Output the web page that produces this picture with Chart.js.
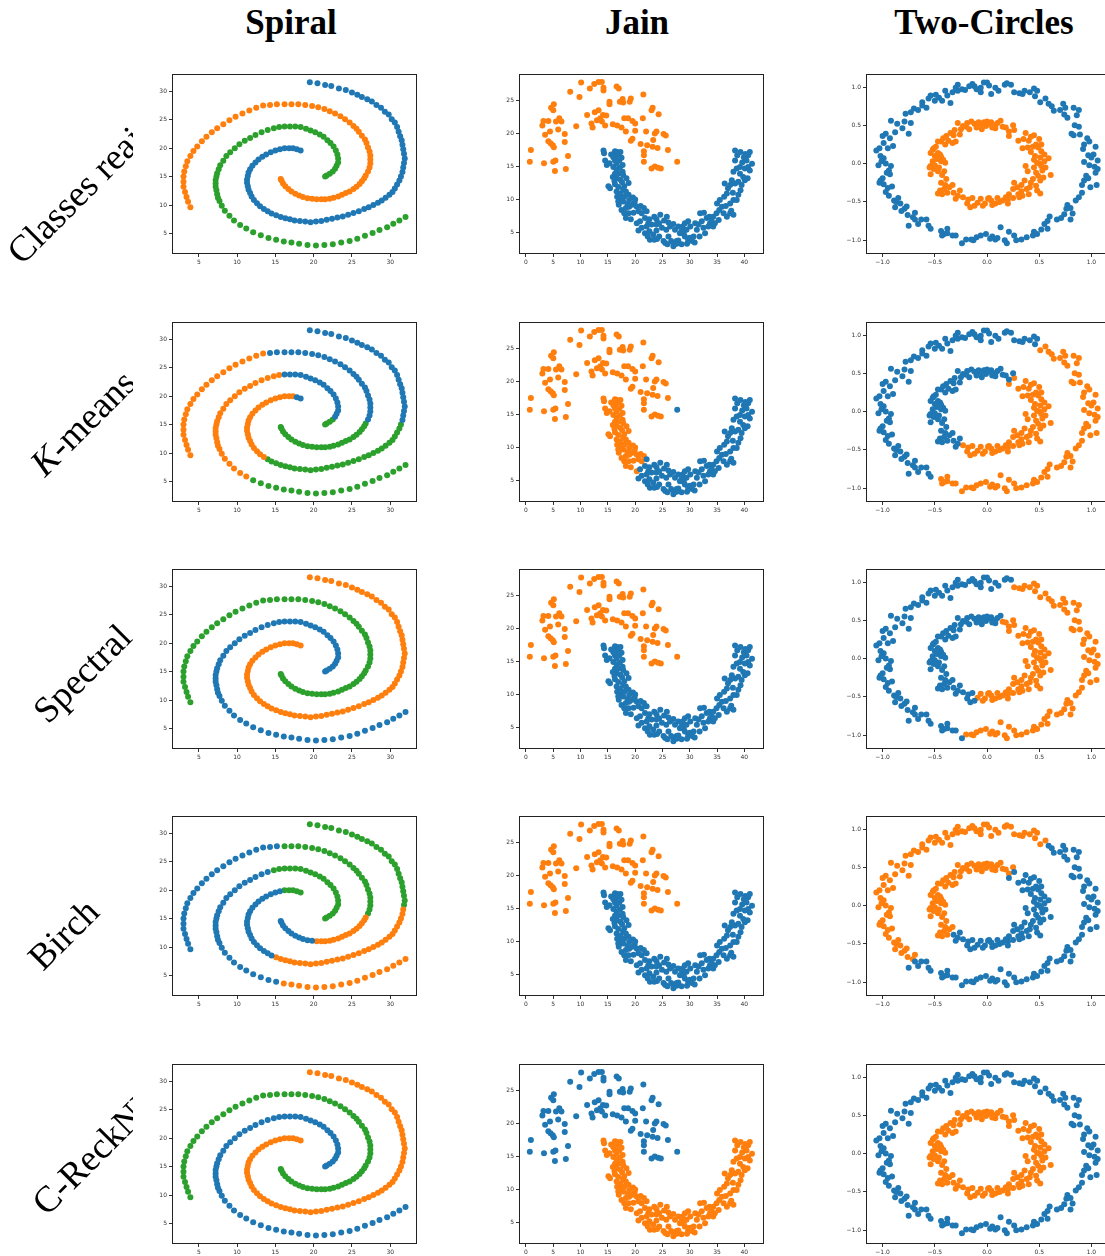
<!DOCTYPE html>
<html>
<head>
<meta charset="utf-8">
<script src="https://cdn.jsdelivr.net/npm/chart.js@4.4.1/dist/chart.umd.min.js"></script>
<style>
html, body { margin: 0; padding: 0; background: #fff; width: 1105px; height: 1256px; overflow: hidden; }
#page { position: relative; width: 1105px; height: 1256px; overflow: hidden; }
svg.text { position: absolute; left: 0; top: 0; overflow: hidden; z-index: 2; pointer-events: none; }
canvas { position: absolute; }
</style>
</head>
<body>
<div id="page">
  <svg class="text" width="1105" height="60" font-family="Liberation Serif, serif" font-weight="bold" font-size="35" text-anchor="middle">
    <text x="291" y="34">Spiral</text>
    <text x="637" y="34">Jain</text>
    <text x="984" y="34">Two-Circles</text>
  </svg>
  <svg class="text" width="133" height="1256" font-family="Liberation Serif, serif" font-size="37">
    <text x="22" y="266" transform="rotate(-45 22 266)">Classes reais</text>
    <text x="45" y="478" transform="rotate(-45 45 478)"><tspan font-style="italic">K</tspan>-means</text>
    <text x="48" y="725" transform="rotate(-45 48 725)">Spectral</text>
    <text x="43" y="972" transform="rotate(-45 43 972)">Birch</text>
    <text x="47" y="1217" transform="rotate(-45 47 1217)">C-ReckNN</text>
  </svg>
</div>
<script>
// ---- Spiral: three arms, each cut where the clusterings change colour
const spiralA1 = [[19.5,31.6],[20.5,31.4],[21.5,31.1],[22.3,30.9],[23.3,30.5],[24.2,30.2],[25.0,29.8],[25.7,29.4],[26.3,29.0],[27.0,28.6],[27.6,28.2],[28.2,27.6],[28.8,27.1],[29.3,26.4],[29.8,25.9],[30.2,25.1],[30.6,24.5],[30.9,23.7],[31.1,22.9],[31.3,22.1],[31.5,21.4],[31.6,20.6],[31.7,19.8],[31.8,19.0],[31.9,18.2],[31.8,17.4]];
const spiralA2 = [[31.7,16.6],[31.6,15.8]];
const spiralA3 = [[31.4,15.0],[31.2,14.3],[30.9,13.6],[30.6,12.9],[30.3,12.3],[29.9,11.8],[29.4,11.3],[28.9,10.8],[28.4,10.4],[27.8,10.0],[27.2,9.6],[26.6,9.3],[25.9,8.9],[25.2,8.6],[24.5,8.3],[23.8,8.0],[23.1,7.8],[22.4,7.6],[21.7,7.4],[21.0,7.2],[20.3,7.1],[19.6,7.0],[18.9,7.1],[18.2,7.2],[17.5,7.3],[16.9,7.5],[16.3,7.7],[15.7,7.9],[15.1,8.2]];
const spiralA4 = [[14.5,8.5],[14.0,8.9]];
const spiralA5 = [[13.5,9.3],[13.0,9.8],[12.6,10.3],[12.2,10.9],[11.9,11.5],[11.7,12.1],[11.5,12.7],[11.4,13.3],[11.3,13.9],[11.3,14.5],[11.4,15.1],[11.5,15.7],[11.7,16.3],[12.0,16.9],[12.4,17.5],[12.8,18.0],[13.3,18.5],[13.8,18.9],[14.4,19.3],[15.0,19.6],[15.6,19.8]];
const spiralA6 = [[16.2,20.0],[16.8,20.0],[17.3,20.0]];
const spiralA7 = [[17.8,19.8],[18.3,19.6]];
const spiralB1 = [[3.9,9.6],[3.6,10.6],[3.4,11.4],[3.2,12.3],[3.0,13.2],[3.0,14.1],[3.0,15.0],[3.1,15.9],[3.3,16.8],[3.5,17.7],[3.9,18.6],[4.3,19.5],[4.8,20.3],[5.4,21.2],[6.0,22.0],[6.7,22.8],[7.4,23.5],[8.2,24.2],[9.0,24.9],[9.8,25.5],[10.7,26.1],[11.6,26.6],[12.5,27.1],[13.4,27.5]];
const spiralB2 = [[14.3,27.6],[15.2,27.7]];
const spiralB3 = [[16.2,27.7],[17.1,27.7],[18.0,27.7],[18.9,27.6],[19.8,27.4],[20.6,27.2],[21.4,26.9],[22.1,26.5],[22.8,26.1],[23.5,25.6],[24.1,25.1],[24.7,24.5],[25.2,23.9],[25.6,23.4],[25.9,22.9],[26.3,22.2],[26.7,21.5],[26.9,20.9],[27.1,20.1],[27.3,19.4],[27.4,18.7],[27.4,18.0],[27.4,17.3],[27.3,16.6],[27.1,15.9]];
const spiralB4 = [[26.8,15.2],[26.6,14.7],[26.3,14.2],[26.0,13.7],[25.6,13.2],[25.2,12.8],[24.7,12.4],[24.2,12.1],[23.7,11.8],[23.2,11.5],[22.6,11.3],[22.1,11.1],[21.5,11.0],[21.0,11.0],[20.4,11.0]];
const spiralB5 = [[19.8,11.1],[19.2,11.2],[18.6,11.4],[18.1,11.7],[17.6,12.0],[17.1,12.4],[16.7,12.8],[16.3,13.3],[16.0,13.8],[15.8,14.3],[15.7,14.6]];
const spiralC1 = [[32.0,7.9],[31.2,7.3],[30.4,6.7],[29.6,6.1],[28.6,5.6],[27.7,5.1],[26.7,4.6],[25.7,4.1],[24.7,3.7],[23.6,3.4],[22.5,3.1],[21.4,3.0],[20.3,2.9],[19.2,3.0],[18.1,3.2],[17.1,3.4],[16.1,3.6]];
const spiralC2 = [[15.1,3.9],[14.1,4.2],[13.1,4.7],[12.1,5.2]];
const spiralC3 = [[11.2,5.9],[10.4,6.5],[9.6,7.3],[9.0,8.1],[8.4,9.0],[8.0,9.9],[7.7,10.7],[7.5,11.3],[7.4,11.9],[7.3,12.6],[7.2,13.2],[7.2,13.8],[7.2,14.4],[7.3,15.0],[7.4,15.6],[7.6,16.3],[7.8,17.0],[8.2,17.8],[8.6,18.6],[9.1,19.3],[9.7,20.0],[10.3,20.7],[11.0,21.3],[11.7,21.8],[12.4,22.3],[13.2,22.8],[14.0,23.2]];
const spiralC4 = [[14.8,23.5],[15.5,23.7]];
const spiralC5 = [[16.2,23.8],[16.9,23.8],[17.6,23.8],[18.3,23.7],[19.0,23.4],[19.6,23.1],[20.2,22.8],[20.8,22.4],[21.3,22.0],[21.8,21.4],[22.2,20.9],[22.6,20.3],[22.9,19.6],[23.1,18.9],[23.2,18.2],[23.2,17.5],[23.0,16.9],[22.8,16.4]];
const spiralC6 = [[22.5,15.9],[22.1,15.5],[21.7,15.2],[21.5,15.0]];
// colour per piece and per row (b blue, o orange, g green), arms A | B | C
const spiralCodes = [
  ['bbbbbbb', 'ooooo', 'gggggg'],
  ['bbggoob', 'obbgg', 'ggoobg'],
  ['ooooooo', 'ggggg', 'bbbbbb'],
  ['goobbgg', 'bbgob', 'obbggg'],
  ['ooooooo', 'ggggg', 'bbbbbb']
];

// ---- Jain
const jainUpper = [[0.9,17.5],[0.7,15.7],[3.0,21.2],[3.2,21.9],[4.1,21.9],[3.5,19.8],[4.4,20.3],[3.3,15.5],[4.1,18.8],[4.5,18.5],[4.9,18.2],[5.1,17.9],[4.6,23.9],[5.1,24.4],[5.0,23.5],[5.5,21.8],[6.1,22.3],[6.5,21.8],[5.9,20.6],[7.1,19.9],[7.1,18.7],[5.0,15.7],[5.4,15.9],[5.3,14.3],[7.3,14.6],[7.7,16.6],[8.1,26.3],[9.2,21.1],[9.8,25.5],[10.1,27.7],[11.2,22.8],[11.7,26.8],[12.5,27.5],[13.3,27.8],[13.9,27.8],[14.2,26.9],[14.2,26.5],[12.6,23.2],[13.3,23.5],[12.0,21.5],[12.2,20.9],[13.0,22.0],[13.6,22.3],[13.9,21.8],[14.1,22.8],[14.7,22.7],[14.5,21.2],[15.3,24.4],[15.3,24.8],[15.9,21.4],[16.6,27.1],[17.0,26.8],[17.2,24.8],[17.7,25.2],[17.8,24.7],[16.7,21.2],[17.5,20.9],[18.3,20.3],[18.0,22.3],[18.7,22.3],[19.0,24.8],[19.2,25.3],[19.2,18.9],[19.5,19.2],[19.5,21.9],[20.0,21.5],[20.0,20.4],[21.0,18.4],[21.5,25.9],[21.4,22.3],[22.0,20.3],[21.6,17.3],[21.6,16.7],[21.6,15.7],[22.2,18.2],[23.2,23.9],[23.0,23.5],[23.3,19.0],[23.6,20.0],[23.9,20.3],[23.2,18.0],[24.1,17.8],[24.3,22.9],[23.0,14.7],[23.6,15.0],[24.2,14.8],[24.7,14.7],[25.2,19.9],[25.6,19.7],[26.0,17.5]];
const jainOutlier = [[27.7,15.7]];
const jainLowerLeft = [[14.2,17.4],[14.3,17.0],[14.5,15.9],[14.8,15.2],[15.3,15.5],[15.6,16.8],[16.3,17.3],[16.7,17.2],[17.3,17.2],[16.5,16.6],[17.0,16.9],[16.0,16.4],[16.3,15.9],[16.6,15.4],[17.1,15.9],[17.5,16.3],[16.0,14.9],[16.6,14.5],[17.2,14.8],[17.7,15.2],[16.3,13.9],[16.9,13.9],[17.7,14.2],[17.8,13.7],[15.9,13.4],[16.6,13.2],[17.3,13.0],[16.2,12.8],[17.6,12.6],[18.4,13.2],[15.1,12.0],[15.4,11.7],[16.3,12.3],[16.9,11.9],[18.0,12.0],[17.8,11.5],[18.8,12.5],[16.6,11.2],[17.3,10.9],[18.3,11.2],[16.7,10.4],[17.5,10.2],[18.0,10.4],[18.8,10.7],[19.6,10.3],[16.9,9.7],[17.8,9.7],[18.9,9.9],[20.0,10.0],[17.0,9.2],[18.6,9.3],[19.9,9.5],[17.5,8.4],[18.3,8.7],[18.9,8.9],[19.5,9.2],[20.3,8.9],[21.0,9.0],[21.6,8.7],[18.0,7.9],[18.8,7.9],[19.7,8.0],[20.6,8.2],[18.3,7.2],[19.2,7.0],[21.2,7.9],[20.3,6.4]];
const jainLowerRight = [[22.1,8.2],[20.9,6.7],[21.8,7.2],[22.6,7.0],[23.5,7.4],[23.9,7.0],[20.6,5.3],[21.2,5.7],[22.1,5.9],[23.0,6.2],[22.4,6.4],[23.9,6.2],[24.4,6.4],[24.6,7.7],[25.3,6.8],[25.8,7.4],[26.1,6.5],[27.0,6.3],[21.8,4.9],[22.3,4.4],[22.6,5.2],[23.3,4.7],[23.9,5.3],[24.9,5.7],[25.7,5.4],[26.4,5.9],[27.3,5.4],[27.9,5.9],[22.7,3.9],[23.5,3.9],[24.0,4.0],[24.4,4.4],[25.2,3.7],[25.5,3.4],[25.9,3.2],[26.1,4.4],[26.6,3.7],[27.0,3.4],[27.0,2.9],[27.6,3.7],[27.6,3.3],[27.9,3.8],[28.5,3.2],[28.2,4.9],[28.5,5.2],[28.9,4.8],[28.7,5.9],[29.1,6.4],[29.4,5.4],[29.7,6.7],[29.1,4.4],[29.5,3.3],[29.7,3.9],[30.0,4.2],[30.4,3.7],[30.9,3.5],[30.7,4.4],[30.1,5.9],[31.0,6.4],[31.3,5.4],[31.6,6.2],[31.9,7.9],[32.2,6.7],[32.6,8.0],[32.5,5.7],[33.1,7.2],[33.4,5.9],[33.6,7.4],[33.7,6.4],[32.8,4.9],[31.8,4.4],[34.0,6.7],[34.3,7.4],[34.3,5.9],[34.6,6.4],[34.9,7.9],[35.3,6.9],[35.4,8.4],[35.9,8.9],[35.0,9.4],[35.5,9.9],[36.3,10.4],[36.6,9.0],[36.8,10.9],[36.2,7.9],[36.8,7.4],[37.4,7.9],[37.6,8.3],[38.0,7.7],[37.4,9.4],[38.0,9.9],[38.6,9.9],[38.9,10.7],[37.9,11.0],[37.0,11.7],[36.4,12.4],[37.4,12.2],[37.7,12.9],[38.3,12.4],[38.9,12.7],[39.3,11.4],[39.5,12.2],[40.1,12.9],[40.6,13.2],[39.2,13.9],[39.8,13.4],[38.0,14.2],[38.6,14.7],[39.2,14.9],[38.3,15.9],[39.6,15.6],[38.7,16.7],[38.3,17.4],[39.3,17.2],[39.9,16.4],[40.2,16.9],[40.7,16.7],[41.0,17.2],[40.4,15.9],[41.4,15.4],[40.7,14.9],[40.1,14.7],[41.0,14.4]];
const jainCodes = ['oobb', 'obob', 'oobb', 'oobb', 'bboo'];

// ---- Two-Circles: outer ring in six arcs, inner ring in five arcs
const outerS1 = [[0.59,0.78],[0.62,0.75],[0.64,0.69],[0.70,0.70],[0.73,0.78],[0.75,0.73],[0.74,0.64],[0.77,0.60],[0.83,0.73],[0.88,0.70],[0.86,0.63],[0.84,0.50],[0.88,0.48],[0.89,0.38],[0.81,0.39],[0.83,0.37],[0.96,0.33],[0.98,0.29],[0.93,0.25],[0.92,0.19],[1.04,0.22],[1.02,0.12],[0.97,0.11],[1.00,0.08],[1.06,0.04],[0.93,0.02],[0.98,-0.02],[1.03,-0.04],[1.06,-0.07],[1.04,-0.12],[0.95,-0.16],[0.97,-0.19],[0.93,-0.22],[1.05,-0.28],[0.99,-0.31],[0.91,-0.28],[0.91,-0.38],[0.88,-0.44],[0.85,-0.48],[0.77,-0.54],[0.76,-0.59],[0.80,-0.58],[0.74,-0.66],[0.82,-0.65],[0.80,-0.73],[0.71,-0.71],[0.67,-0.73],[0.60,-0.69],[0.58,-0.75],[0.55,-0.79],[0.58,-0.85],[0.52,-0.86],[0.45,-0.89],[0.44,-0.94],[0.48,-0.92],[0.38,-0.96],[0.33,-0.99],[0.28,-1.00],[0.26,-0.94],[0.21,-0.89],[0.19,-1.04],[0.17,-1.00],[0.13,-0.83],[0.10,-0.97],[0.08,-0.99],[0.05,-0.95],[0.03,-0.98],[-0.01,-0.92],[-0.06,-0.94],[-0.10,-0.96],[-0.13,-1.00],[-0.15,-0.99],[-0.20,-0.99]];
const outerS2 = [[0.51,0.80],[0.56,0.85]];
const outerS3 = [[0.26,0.93],[0.31,0.92],[0.34,0.91],[0.36,0.95],[0.41,0.93],[0.45,0.98],[0.48,0.95],[0.46,0.88]];
const outerS4 = [[-0.03,1.06],[0.00,1.06],[0.02,1.02],[0.08,0.99],[0.04,0.91],[0.11,0.95],[0.17,1.03],[0.19,1.05],[0.23,1.03],[-0.06,0.99],[-0.06,0.93],[-0.10,0.97],[-0.12,1.01],[-0.14,1.04],[-0.17,1.01],[-0.21,0.96],[-0.24,0.97],[-0.28,0.95],[-0.28,1.03],[-0.30,0.99],[-0.33,0.93],[-0.35,0.79],[-0.38,0.89],[-0.40,0.95],[-0.43,0.82],[-0.46,0.86],[-0.49,0.90],[-0.50,0.82],[-0.54,0.89],[-0.56,0.85],[-0.58,0.73],[-0.62,0.76],[-0.62,0.80],[-0.66,0.70],[-0.70,0.72],[-0.73,0.67],[-0.78,0.65],[-0.73,0.53],[-0.75,0.39],[-0.79,0.55],[-0.81,0.46],[-0.86,0.52],[-0.92,0.56],[-0.88,0.41],[-0.97,0.39],[-1.00,0.36],[-0.93,0.33],[-0.99,0.27],[-0.90,0.23],[-0.95,0.20],[-1.03,0.20],[-1.06,0.17],[-1.02,0.10],[-0.99,0.07],[-1.01,0.03],[-0.97,0.00],[-1.04,-0.02],[-0.92,-0.03],[-0.94,-0.09],[-0.96,-0.12],[-0.93,-0.14],[-1.00,-0.19],[-1.02,-0.22],[-1.03,-0.25],[-0.99,-0.27],[-0.91,-0.30],[-0.95,-0.32],[-0.97,-0.37],[-0.94,-0.42],[-0.89,-0.48],[-0.85,-0.45],[-0.87,-0.50],[-0.83,-0.52],[-0.88,-0.57],[-0.79,-0.59],[-0.77,-0.56],[-0.82,-0.62],[-0.76,-0.67],[-0.69,-0.64],[-0.71,-0.70]];
const outerS5 = [[-0.75,-0.81],[-0.69,-0.73],[-0.66,-0.79],[-0.63,-0.73],[-0.58,-0.73],[-0.56,-0.81],[-0.54,-0.85]];
const outerS6 = [[-0.44,-0.88],[-0.43,-0.94],[-0.41,-0.92],[-0.38,-0.85],[-0.38,-0.91],[-0.33,-0.94],[-0.30,-0.94],[-0.24,-1.04]];
const innerT1 = [[0.26,0.44],[0.21,0.36],[0.30,0.30],[0.35,0.32],[0.37,0.40],[0.40,0.30],[0.42,0.35],[0.45,0.37],[0.50,0.32],[0.52,0.25],[0.47,0.25],[0.34,0.20],[0.39,0.21],[0.44,0.22],[0.49,0.21],[0.52,0.16],[0.42,0.15],[0.55,0.12],[0.46,0.10],[0.51,0.08],[0.45,0.05],[0.55,0.03],[0.59,0.07],[0.48,0.01],[0.50,0.00],[0.52,-0.03],[0.45,-0.05],[0.56,-0.05],[0.53,-0.09],[0.37,-0.03],[0.39,-0.10],[0.47,-0.12],[0.61,-0.15],[0.49,-0.16],[0.54,-0.18],[0.51,-0.22],[0.44,-0.20],[0.36,-0.22],[0.42,-0.25],[0.47,-0.29],[0.33,-0.28],[0.41,-0.31],[0.38,-0.33],[0.48,-0.35],[0.51,-0.39],[0.40,-0.40],[0.26,-0.25],[0.29,-0.31],[0.25,-0.33],[0.33,-0.36],[0.34,-0.42],[0.31,-0.44],[0.30,-0.40],[0.25,-0.45],[0.21,-0.40],[0.20,-0.47],[0.20,-0.52],[0.18,-0.44],[0.15,-0.48],[0.12,-0.50],[0.10,-0.45],[0.08,-0.52],[0.05,-0.54],[0.04,-0.48],[0.02,-0.45],[0.01,-0.46],[-0.02,-0.52],[-0.04,-0.55],[-0.06,-0.46],[-0.09,-0.51]];
const innerT3 = [[0.15,0.48],[0.18,0.47],[0.21,0.42],[0.25,0.50]];
const innerT4 = [[0.13,0.56],[0.10,0.53],[0.08,0.50],[0.08,0.46],[0.05,0.47],[0.04,0.54],[0.02,0.52],[0.00,0.55],[-0.01,0.49],[-0.03,0.54],[-0.05,0.45],[-0.06,0.51],[-0.08,0.54],[-0.10,0.47],[-0.12,0.52],[-0.15,0.55],[-0.17,0.45],[-0.19,0.53],[-0.20,0.48],[-0.23,0.49],[-0.25,0.45],[-0.28,0.53],[-0.26,0.38],[-0.31,0.44],[-0.32,0.37],[-0.35,0.40],[-0.39,0.36],[-0.42,0.33],[-0.37,0.30],[-0.33,0.27],[-0.30,0.29],[-0.40,0.25],[-0.44,0.29],[-0.47,0.29],[-0.49,0.22],[-0.51,0.20],[-0.52,0.18],[-0.54,0.14],[-0.47,0.14],[-0.45,0.12],[-0.50,0.10],[-0.44,0.09],[-0.48,0.06],[-0.42,0.05],[-0.52,0.03],[-0.44,0.03],[-0.40,0.01],[-0.50,-0.02],[-0.54,-0.03],[-0.55,-0.05],[-0.46,-0.05],[-0.51,-0.07],[-0.41,-0.10],[-0.47,-0.10],[-0.54,-0.14],[-0.43,-0.15],[-0.39,-0.20],[-0.44,-0.25],[-0.40,-0.28],[-0.33,-0.28],[-0.36,-0.31],[-0.41,-0.33],[-0.45,-0.35],[-0.38,-0.38],[-0.47,-0.39],[-0.43,-0.40]];
const innerT5 = [[-0.26,-0.35],[-0.32,-0.38],[-0.28,-0.42],[-0.30,-0.46]];
const innerT6 = [[-0.23,-0.44],[-0.18,-0.47],[-0.19,-0.52],[-0.14,-0.45],[-0.16,-0.57],[-0.12,-0.55]];
const circleCodes = ['bbbbbbooooo', 'oobbboobbbo', 'ooobbboobbb', 'booobbboobb', 'bbbbbbooooo'];

// ---- ticks
const spiralTicks = [5, 10, 15, 20, 25, 30];
const jainXTicks = [0, 5, 10, 15, 20, 25, 30, 35, 40];
const jainYTicks = [5, 10, 15, 20, 25];
const circleTicks = [-1, -0.5, 0, 0.5, 1];
const circleTickLabels = ['\u22121.0', '\u22120.5', '0.0', '0.5', '1.0'];

const colours = { b: '#1f77b4', o: '#ff7f0e', g: '#2ca02c' };

const spiralSegments = [spiralA1, spiralA2, spiralA3, spiralA4, spiralA5, spiralA6, spiralA7,
  spiralB1, spiralB2, spiralB3, spiralB4, spiralB5,
  spiralC1, spiralC2, spiralC3, spiralC4, spiralC5, spiralC6];
const jainSegments = [jainUpper, jainOutlier, jainLowerLeft, jainLowerRight];
const circleSegments = [outerS1, outerS2, outerS3, outerS4, outerS5, outerS6, innerT1, innerT3, innerT4, innerT5, innerT6];

const rowTops = [72, 320, 567, 814, 1062];
const boxH = 182;

const columns = [
  { left: 172, width: 245, segments: spiralSegments, codes: spiralCodes.map(c => c.join('')),
    x: [1.5, 33.5], y: [1.4, 33.1], xTicks: spiralTicks, yTicks: spiralTicks },
  { left: 519, width: 245, segments: jainSegments, codes: jainCodes,
    x: [-1.28, 43.6], y: [1.74, 29.06], xTicks: jainXTicks, yTicks: jainYTicks },
  { left: 866, width: 242, segments: circleSegments, codes: circleCodes,
    x: [-1.159, 1.159], y: [-1.18, 1.175], xTicks: circleTicks, yTicks: circleTicks, labels: circleTickLabels }
];

function makeSets(segments, code) {
  const groups = { b: [], o: [], g: [] };
  segments.forEach((seg, i) => {
    seg.forEach(p => groups[code[i]].push({ x: p[0], y: p[1] }));
  });
  return ['b', 'o', 'g'].filter(k => groups[k].length).map(k => ({
    data: groups[k],
    backgroundColor: colours[k],
    borderWidth: 0,
    pointRadius: 3,
    pointHoverRadius: 3
  }));
}

// box around the plot area (matplotlib spines)
const spines = {
  id: 'spines',
  afterDraw(chart) {
    const a = chart.chartArea;
    const ctx = chart.ctx;
    ctx.save();
    ctx.strokeStyle = '#222';
    ctx.lineWidth = 1;
    ctx.strokeRect(Math.round(a.left) + 0.5, Math.round(a.top) + 0.5,
      Math.round(a.right - a.left) - 1, Math.round(a.bottom - a.top) - 1);
    ctx.restore();
  }
};

function axis(range, ticks, labels, isY) {
  return {
    type: 'linear',
    position: isY ? 'left' : 'bottom',
    min: range[0],
    max: range[1],
    afterBuildTicks: s => { s.ticks = ticks.map(v => ({ value: v })); },
    afterFit: s => { if (isY) s.width = 40; else s.height = 20; },
    grid: { display: true, drawOnChartArea: false, drawTicks: true, tickLength: 3, color: '#333', lineWidth: 1 },
    border: { display: false },
    ticks: {
      autoSkip: false,
      maxRotation: 0,
      padding: 2,
      color: '#333',
      font: { family: 'DejaVu Sans', size: 6 },
      callback: (v, i) => labels ? labels[i] : String(v)
    }
  };
}

const page = document.getElementById('page');
rowTops.forEach((top, r) => {
  columns.forEach(col => {
    const cv = document.createElement('canvas');
    cv.width = col.width + 44;
    cv.height = boxH + 24;
    cv.style.left = (col.left - 40) + 'px';
    cv.style.top = (top - 4) + 'px';
    page.appendChild(cv);
    new Chart(cv.getContext('2d'), {
      type: 'scatter',
      data: { datasets: makeSets(col.segments, col.codes[r]) },
      options: {
        responsive: false,
        animation: false,
        events: [],
        layout: { padding: { left: 0, top: 4, right: 4, bottom: 0 } },
        plugins: { legend: { display: false }, tooltip: { enabled: false } },
        scales: {
          x: axis(col.x, col.xTicks, col.labels, false),
          y: axis(col.y, col.yTicks, col.labels, true)
        }
      },
      plugins: [spines]
    });
  });
});
</script>
</body>
</html>
